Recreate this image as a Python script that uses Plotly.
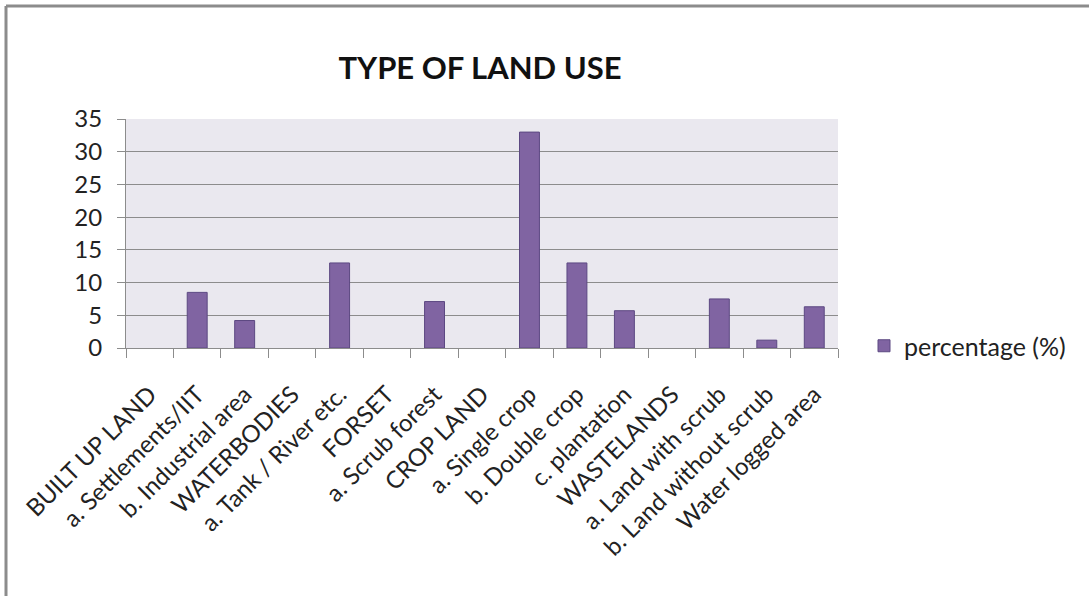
import plotly.graph_objects as go

categories = [
    "BUILT UP LAND", "a. Settlements/IIT", "b. Industrial area", "WATERBODIES",
    "a. Tank / River etc.", "FORSET", "a. Scrub forest", "CROP LAND",
    "a. Single crop", "b. Double crop", "c. plantation", "WASTELANDS",
    "a. Land with scrub", "b. Land without scrub", "Water logged area",
]
percentage = [None, 8.5, 4.2, None, 13.0, None, 7.1, None, 33.0, 13.0, 5.7, None, 7.5, 1.2, 6.3]
y_ticks = [0, 5, 10, 15, 20, 25, 30, 35]

W, H = 1089, 596
L, R, T, B = 126, 838, 119, 348
pw, ph = R - L, B - T

FONT = "Lato, Calibri, Carlito, sans-serif"

fig = go.Figure()
fig.add_trace(go.Bar(
    x=categories, y=percentage, name="percentage (%)",
    marker=dict(color="#8064A2", line=dict(color="#5C4882", width=1)),
))

def px_x(p):
    return (p - L) / pw

def px_y(p):
    return (B - p) / ph

border = dict(color="#8C8C8C", width=3)
fig.add_shape(type="line", xref="paper", yref="paper",
              x0=px_x(6), x1=px_x(6), y0=px_y(H + 5), y1=px_y(6), line=border)
fig.add_shape(type="line", xref="paper", yref="paper",
              x0=px_x(6), x1=px_x(W + 5), y0=px_y(6), y1=px_y(6), line=border)

fig.update_layout(
    width=W, height=H,
    margin=dict(l=L, r=W - R, t=T, b=H - B, autoexpand=False),
    paper_bgcolor="white",
    plot_bgcolor="#EAE8EF",
    font=dict(family=FONT, color="#222222", size=22),
    title=dict(text="<b>TYPE OF LAND USE</b>", x=px_x(480), xref="paper",
               xanchor="center", y=1 - 68 / H, yanchor="middle",
               font=dict(size=31, family=FONT, color="#111111")),
    bargap=0.58,
    showlegend=True,
    legend=dict(x=px_x(864), y=px_y(346), xanchor="left", yanchor="middle",
                font=dict(size=25, family=FONT, color="#222222"),
                bgcolor="rgba(0,0,0,0)", itemwidth=30),
    xaxis=dict(
        type="category", tickangle=-45, tickson="boundaries",
        ticks="outside", ticklen=9, tickcolor="#8C8C8C", tickwidth=1,
        showline=True, linecolor="#8C8C8C", linewidth=1,
        showgrid=False, ticklabelstandoff=22,
        tickfont=dict(size=24, family=FONT, color="#222222"),
    ),
    yaxis=dict(
        range=[0, 35], tickvals=y_ticks, ticks="outside", ticklen=8,
        tickcolor="#8C8C8C", showline=True, linecolor="#8C8C8C", linewidth=1,
        showgrid=True, gridcolor="#8C8C8C", gridwidth=1, zeroline=False,
        ticklabelstandoff=10,
        tickfont=dict(size=24, family=FONT, color="#222222"),
    ),
)

fig.write_html("out.html", config={"displayModeBar": False},
               post_script="document.body.style.margin='0';")
